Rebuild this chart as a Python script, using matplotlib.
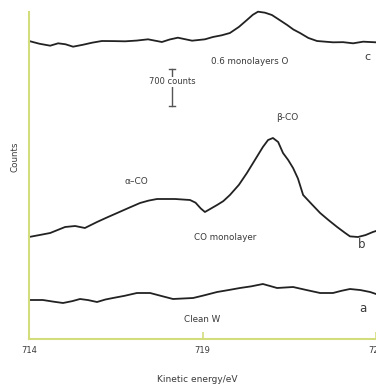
import matplotlib
matplotlib.use("Agg")
import matplotlib.pyplot as plt

# Kinetic energy (eV) and counts
energy_c = [714.00, 714.30, 714.61, 714.84, 715.05, 715.27, 715.55, 715.82, 716.10, 716.45,
            716.77, 717.10, 717.43, 717.83, 718.05, 718.29, 718.70, 719.07, 719.30, 719.55,
            719.79, 720.05, 720.28, 720.45, 720.60, 720.80, 721.00, 721.20, 721.44, 721.62,
            721.81, 722.05, 722.30, 722.76, 723.05, 723.34, 723.63, 724.00]
counts_c = [5662, 5610, 5573, 5618, 5600, 5554, 5590, 5630, 5662, 5660,
            5656, 5670, 5694, 5643, 5690, 5725, 5668, 5694, 5738, 5770,
            5814, 5930, 6061, 6160, 6219, 6200, 6156, 6070, 5966, 5880,
            5814, 5720, 5662, 5637, 5640, 5618, 5649, 5637]

energy_b = [714.00, 714.30, 714.61, 715.04, 715.33, 715.61, 715.96, 716.25, 716.54, 716.87,
            717.20, 717.45, 717.69, 718.21, 718.64, 718.80, 718.95, 719.07, 719.22, 719.42,
            719.60, 719.79, 720.05, 720.28, 720.50, 720.74, 720.89, 721.03, 721.18, 721.32,
            721.47, 721.61, 721.75, 721.90, 722.15, 722.39, 722.63, 722.88, 723.10, 723.25,
            723.48, 723.70, 723.91, 724.00]
counts_b = [1938, 1975, 2014, 2128, 2147, 2109, 2223, 2310, 2394, 2490,
            2584, 2630, 2660, 2660, 2641, 2590, 2480, 2413, 2470, 2546,
            2620, 2736, 2930, 3154, 3390, 3648, 3781, 3819, 3743, 3534,
            3400, 3249, 3050, 2736, 2560, 2394, 2260, 2128, 2020, 1950,
            1938, 1975, 2033, 2052]

energy_a = [714.00, 714.40, 714.70, 714.98, 715.25, 715.47, 715.70, 715.96, 716.20, 716.42,
            716.75, 717.11, 717.49, 717.80, 718.15, 718.45, 718.73, 719.05, 719.42, 719.75,
            720.08, 720.40, 720.74, 721.15, 721.61, 722.00, 722.39, 722.76, 723.00, 723.25,
            723.55, 723.83, 724.00]
counts_a = [741, 741, 710, 684, 720, 760, 740, 703, 750, 779,
            820, 874, 874, 820, 760, 770, 779, 830, 893, 930,
            969, 1000, 1045, 969, 988, 930, 874, 874, 915, 950,
            930, 893, 855]

x_ticks = [714, 719, 724]
x_tick_labels = ["714", "719", "724"]

scale_bar = [4430, 5130]  # 700 counts

spine_col = "#d3dd7c"
txt_col = "#3a3a3a"
line_col = "#222222"

fig = plt.figure(figsize=(3.76, 3.85), dpi=100)
ax = fig.add_axes([29/376, 46/385, 1 - 29/376, 327/385])
ax.set_xlim(714, 724)
ax.set_ylim(0, 6213)

for e, c in [(energy_c, counts_c), (energy_b, counts_b), (energy_a, counts_a)]:
    ax.plot(e, c, color=line_col, lw=1.3, solid_joinstyle="round", clip_on=False)

for s in ["top", "right"]:
    ax.spines[s].set_visible(False)
for s in ["left", "bottom"]:
    ax.spines[s].set_color(spine_col)
    ax.spines[s].set_linewidth(1.5)

ax.set_yticks([])
ax.set_xticks(x_ticks)
ax.set_xticklabels(x_tick_labels, fontsize=6, color=txt_col)
ax.tick_params(axis="x", direction="in", length=5, width=1.2, color=spine_col, pad=5)

# scale bar
xb = 718.12
ax.plot([xb, xb], scale_bar, color="#555555", lw=1.0)
ax.plot([xb - 0.08, xb + 0.08], [scale_bar[0]] * 2, color="#555555", lw=1.0)
ax.plot([xb - 0.08, xb + 0.08], [scale_bar[1]] * 2, color="#555555", lw=1.0)
ax.text(xb, 4883, "700 counts", fontsize=6, color=txt_col, ha="center", va="center",
        bbox=dict(facecolor="white", edgecolor="none", pad=0.5))

kw = dict(color=txt_col, ha="center", va="center")
ax.text(720.37, 5263, "0.6 monolayers O", fontsize=6.3, **kw)
ax.text(721.44, 4218, "β-CO", fontsize=6.5, **kw)
ax.text(717.08, 2983, "α–CO", fontsize=6.5, **kw)
ax.text(719.65, 1938, "CO monolayer", fontsize=6.3, **kw)
ax.text(718.99, 361, "Clean W", fontsize=6.3, **kw)
ax.text(723.74, 5358, "c", fontsize=8, **kw)
ax.text(723.60, 1786, "b", fontsize=8.5, **kw)
ax.text(723.63, 589, "a", fontsize=8.5, **kw)

fig.text(197/376, 1 - 380/385, "Kinetic energy/eV", fontsize=6.5, color=txt_col,
         ha="center", va="center")
fig.text(15/376, 1 - 157/385, "Counts", fontsize=6.3, color=txt_col, rotation=90,
         ha="center", va="center")

fig.savefig("out.png", dpi=100)
